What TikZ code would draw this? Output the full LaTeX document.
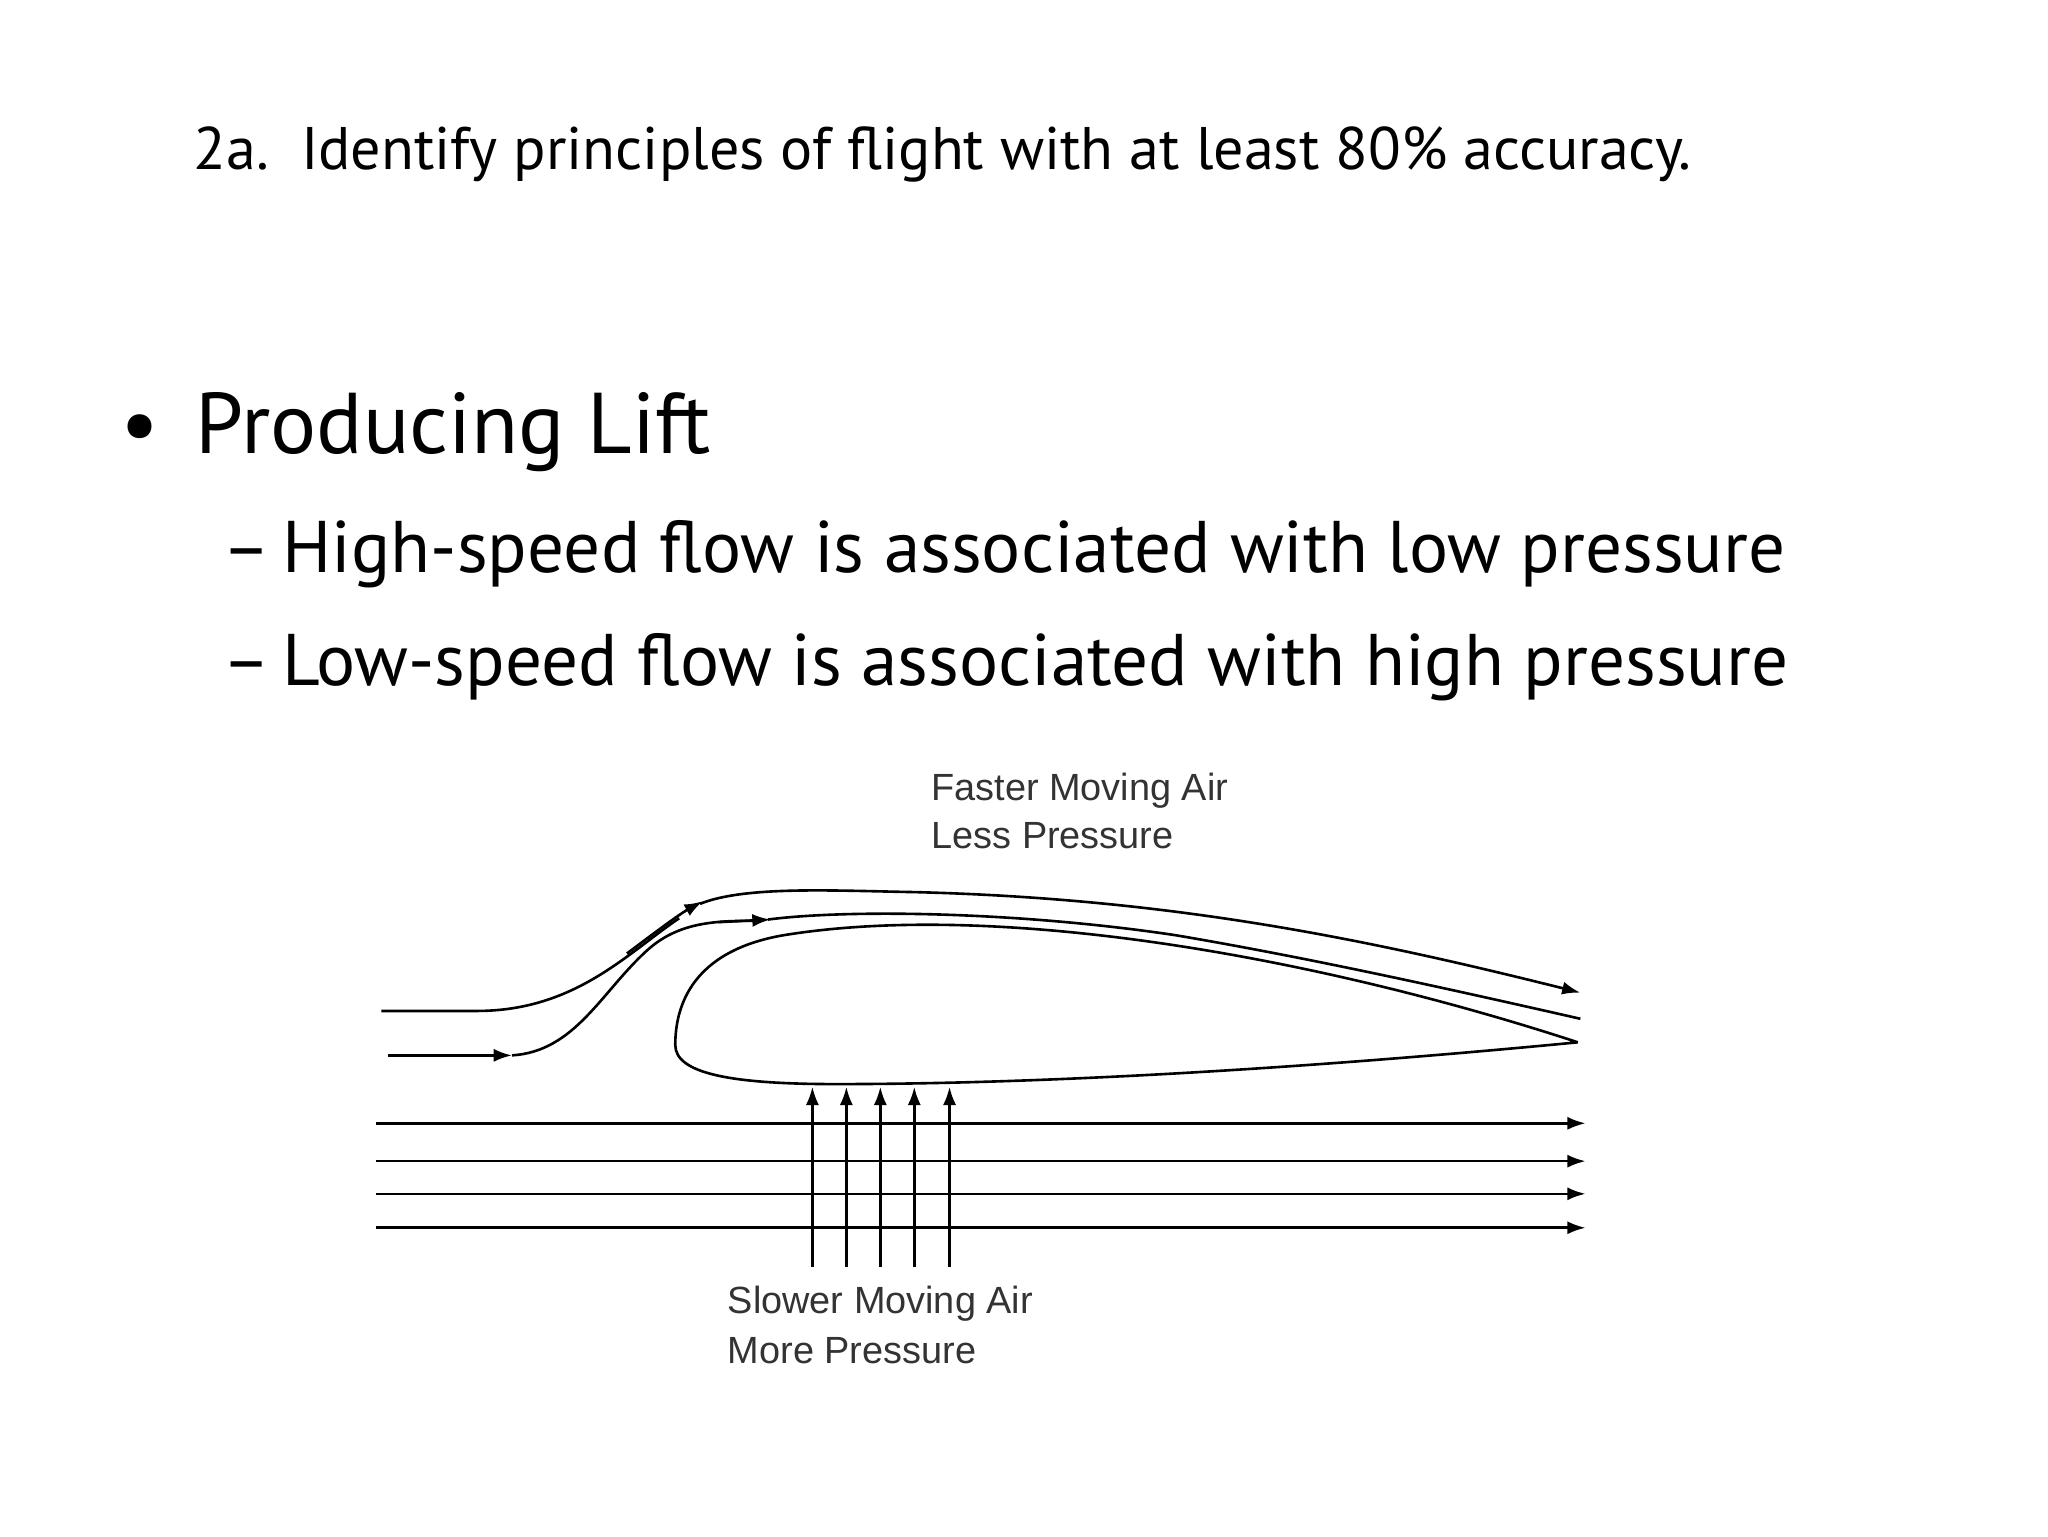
\documentclass[tikz,border=0pt]{standalone}
\usepackage{fontspec}
\setmainfont{PT Sans}
\newfontfamily\lblfont{Liberation Sans}
\usetikzlibrary{arrows.meta}
\begin{document}
\begin{tikzpicture}[x=1pt,y=-1pt,
  flow/.style={line width=2pt,-{Latex[length=14pt,width=10pt]}},
  plain/.style={line width=2pt},
  lbl/.style={anchor=base west,inner sep=0pt,font=\lblfont\fontsize{29}{29}\selectfont,text=black!80}]
\useasboundingbox (0,0) rectangle (1568,1176);
\node[anchor=base west,inner sep=0pt,font=\fontsize{46}{46}\selectfont] (title) at (148,130) {2a.\ \ Identify principles of flight with at least 80\% accuracy.};
\node[anchor=base west,inner sep=0pt,font=\fontsize{66}{66}\selectfont] (b1) at (92,347) {•\hspace{28pt}Producing Lift};
\node[anchor=base west,inner sep=0pt,font=\fontsize{56}{56}\selectfont] (b2) at (170,438) {–\,High-speed flow is associated with low pressure};
\node[anchor=base west,inner sep=0pt,font=\fontsize{56}{56}\selectfont] (b3) at (170,525) {–\,Low-speed flow is associated with high pressure};
\node[lbl] (fa) at (713,613) {Faster Moving Air};
\node[lbl] (lp) at (713,650) {Less Pressure};
\node[lbl] (sa) at (557,1006) {Slower Moving Air};
\node[lbl] (mp) at (557,1044) {More Pressure};
% airfoil
\coordinate (te) at (1208,798);
\draw[plain] (te) .. controls (1000,730) and (760,690) .. (600,716)
  .. controls (530,728) and (517,770) .. (517,800)
  .. controls (517,822) and (560,830) .. (640,830)
  .. controls (800,830) and (1000,818) .. (te);
% upper streamlines
\coordinate (s1) at (292,774); \coordinate (e1) at (1210,760);
\coordinate (s2) at (297,808); \coordinate (e2) at (1210,780);
\draw[plain] (s1) -- (365,774) .. controls (440,774) and (480,730) .. (520,703);
\draw[flow] (480,730) .. controls (500,715) and (520,700) .. (538,690);
\draw[flow] (536,692) .. controls (570,678) and (640,682) .. (700,683)
  .. controls (900,688) and (1050,720) .. (e1);
\draw[flow] (s2) -- (392,808);
\draw[plain] (392,808) .. controls (440,805) and (460,760) .. (495,728)
  .. controls (520,705) and (550,705) .. (580,705);
\draw[flow] (550,706) -- (590,704);
\draw[plain] (588,704) .. controls (650,696) and (780,698) .. (900,716)
  .. controls (1000,733) and (1100,755) .. (e2);
% lower streamlines
\foreach \y/\n in {860/a,889/b,914/c,940/d}{
  \coordinate (l\n) at (288,\y); \coordinate (r\n) at (1214,\y);
  \draw[flow] (l\n) -- (r\n);}
% pressure arrows
\foreach \x/\n in {622/a,648/b,674/c,700/d,727/e}{
  \coordinate (p\n) at (\x,970); \coordinate (q\n) at (\x,832);
  \draw[flow] (p\n) -- (q\n);}
\end{tikzpicture}
\end{document}
